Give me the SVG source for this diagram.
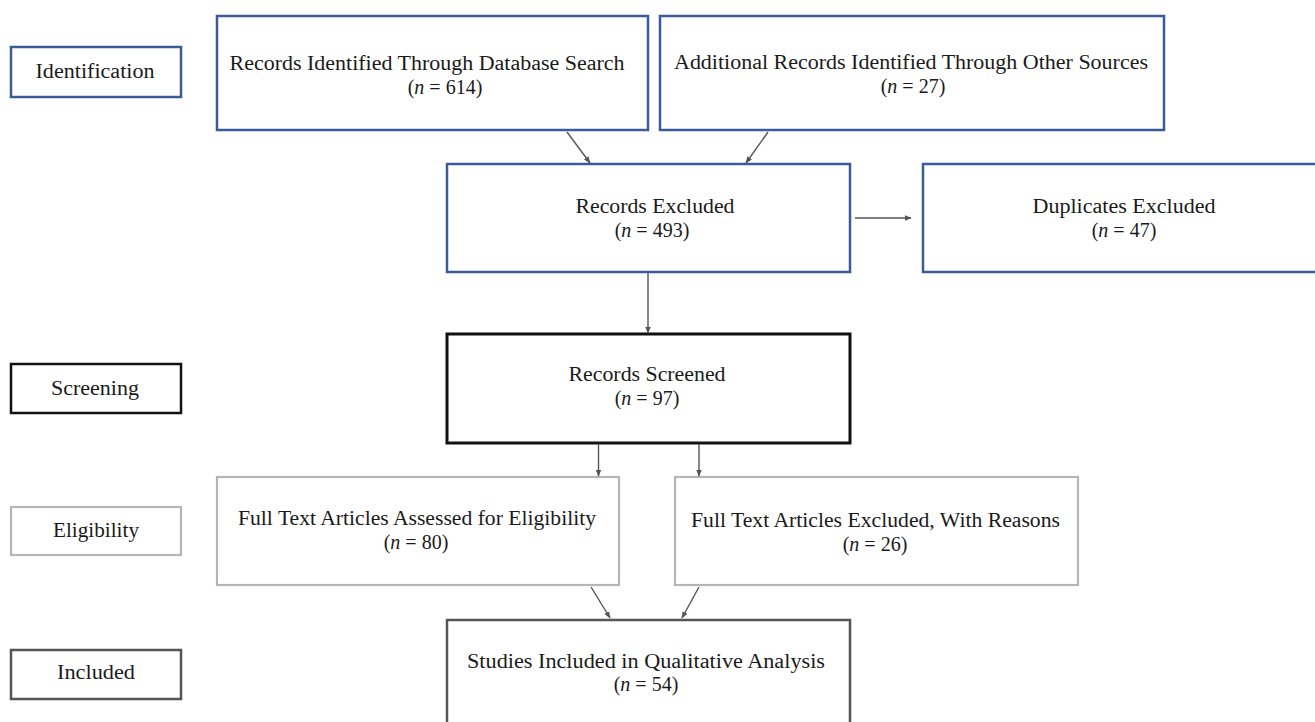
<svg xmlns="http://www.w3.org/2000/svg" width="1315" height="722" viewBox="0 0 1315 722">
<defs>
<style>
text{font-family:"Liberation Serif","Times New Roman",serif;font-size:20px;fill:#1a1a1a;text-anchor:middle}
.n{font-style:italic}
.blue{fill:#fff;stroke:#3a5a9c;stroke-width:2.5}
.black{fill:#fff;stroke:#111;stroke-width:3}
.gray{fill:#fff;stroke:#b5b5b5;stroke-width:2.2}
.dark{fill:#fff;stroke:#555;stroke-width:2.5}
.conn{stroke:#555;stroke-width:1.4;fill:none;marker-end:url(#arr)}
</style>
<marker id="arr" viewBox="0 0 10 10" refX="9" refY="5" markerWidth="7" markerHeight="7" orient="auto" markerUnits="userSpaceOnUse"><path d="M0,1 L10,5 L0,9 z" fill="#555"/></marker>
</defs>
<rect width="1315" height="722" fill="#fff"/>
<g id="stage-identification"><rect class="blue" x="11" y="47" width="170" height="50"/><text x="95" y="78" textLength="119" lengthAdjust="spacingAndGlyphs">Identification</text></g>
<g id="stage-screening"><rect class="black" x="11" y="364" width="170" height="49" style="stroke-width:2.5"/><text x="95" y="395" textLength="88" lengthAdjust="spacingAndGlyphs">Screening</text></g>
<g id="stage-eligibility"><rect class="gray" x="11" y="507" width="170" height="48"/><text x="96" y="537" textLength="86" lengthAdjust="spacingAndGlyphs">Eligibility</text></g>
<g id="stage-included"><rect class="dark" x="11" y="650" width="170" height="49"/><text x="96" y="679" textLength="78" lengthAdjust="spacingAndGlyphs">Included</text></g>
<g id="db-search"><rect class="blue" x="217" y="16" width="431" height="114"/><text x="427" y="70" textLength="395" lengthAdjust="spacingAndGlyphs">Records Identified Through Database Search</text><text x="445" y="94">(<tspan class="n">n</tspan> = 614)</text></g>
<g id="other-sources"><rect class="blue" x="660" y="16" width="504" height="114"/><text x="911" y="69" textLength="474" lengthAdjust="spacingAndGlyphs">Additional Records Identified Through Other Sources</text><text x="913" y="93">(<tspan class="n">n</tspan> = 27)</text></g>
<g id="records-excluded"><rect class="blue" x="447" y="164" width="403" height="108"/><text x="655" y="213" textLength="159" lengthAdjust="spacingAndGlyphs">Records Excluded</text><text x="652" y="237">(<tspan class="n">n</tspan> = 493)</text></g>
<g id="duplicates"><rect class="blue" x="923" y="164" width="400" height="108"/><text x="1124" y="213" textLength="183" lengthAdjust="spacingAndGlyphs">Duplicates Excluded</text><text x="1124" y="237">(<tspan class="n">n</tspan> = 47)</text></g>
<g id="records-screened"><rect class="black" x="447" y="334" width="403" height="109"/><text x="647" y="381" textLength="157" lengthAdjust="spacingAndGlyphs">Records Screened</text><text x="647" y="405">(<tspan class="n">n</tspan> = 97)</text></g>
<g id="assessed"><rect class="gray" x="217" y="477" width="402" height="108"/><text x="417" y="525" textLength="358" lengthAdjust="spacingAndGlyphs">Full Text Articles Assessed for Eligibility</text><text x="416" y="549">(<tspan class="n">n</tspan> = 80)</text></g>
<g id="excluded-reasons"><rect class="gray" x="675" y="477" width="403" height="108"/><text x="875.5" y="527" textLength="369" lengthAdjust="spacingAndGlyphs">Full Text Articles Excluded, With Reasons</text><text x="875" y="551">(<tspan class="n">n</tspan> = 26)</text></g>
<g id="studies-included"><rect class="dark" x="447" y="620" width="403" height="120"/><text x="646" y="668" textLength="358" lengthAdjust="spacingAndGlyphs">Studies Included in Qualitative Analysis</text><text x="646" y="691">(<tspan class="n">n</tspan> = 54)</text></g>
<g id="connectors">
<line class="conn" x1="567" y1="132" x2="590" y2="163"/>
<line class="conn" x1="768" y1="132" x2="746" y2="163"/>
<line class="conn" x1="855" y1="218" x2="911" y2="218"/>
<line class="conn" x1="648" y1="273" x2="648" y2="333"/>
<line class="conn" x1="598.5" y1="444" x2="598.5" y2="476"/>
<line class="conn" x1="699" y1="444" x2="699" y2="476"/>
<line class="conn" x1="591" y1="587" x2="610" y2="618"/>
<line class="conn" x1="699" y1="587" x2="682" y2="618"/>
</g>
</svg>
